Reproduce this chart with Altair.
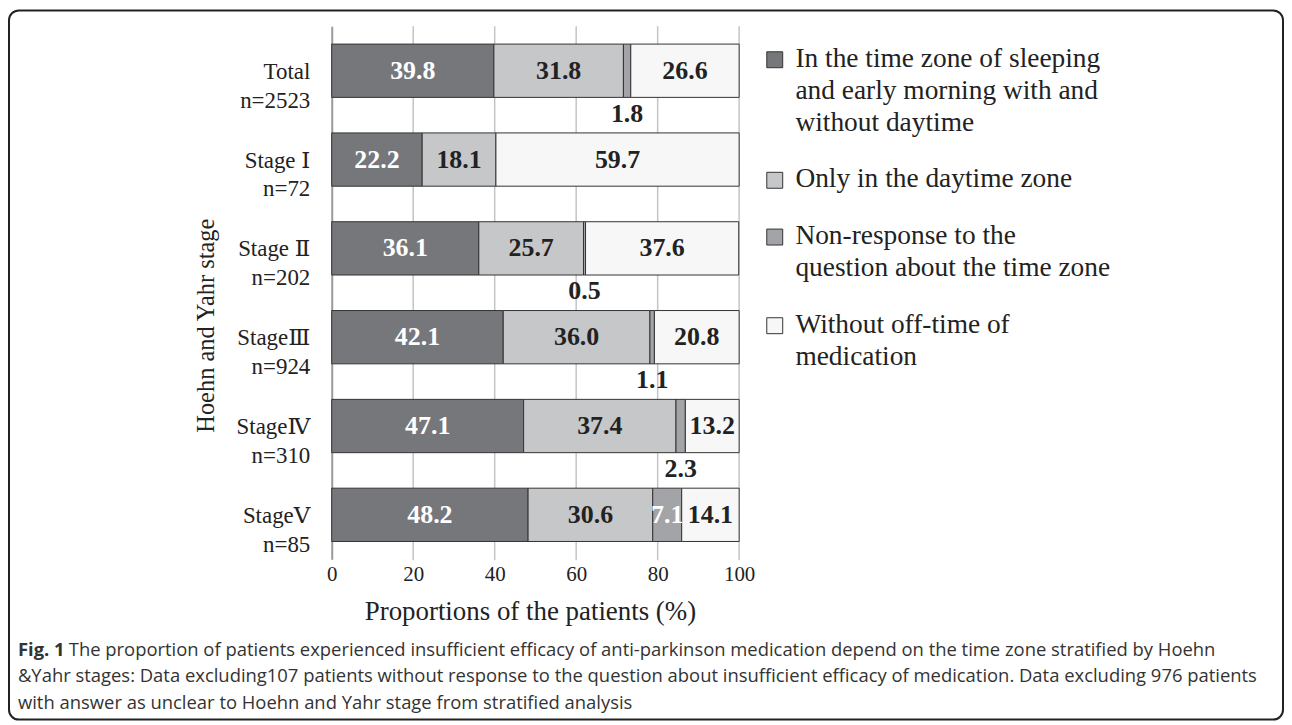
import altair as alt
import pandas as pd

# ---------------- data ----------------
stages = ["Total", "Stage Ⅰ", "Stage Ⅱ", "StageⅢ", "StageⅣ", "StageⅤ"]
n_counts = ["n=2523", "n=72", "n=202", "n=924", "n=310", "n=85"]
categories = [
    "In the time zone of  sleeping|and early morning with and|without daytime",
    "Only in the daytime zone",
    "Non-response to the|question about the time zone",
    "Without off-time of|medication",
]
sleep_morning = [39.8, 22.2, 36.1, 42.1, 47.1, 48.2]
daytime_only = [31.8, 18.1, 25.7, 36.0, 37.4, 30.6]
non_response = [1.8, 0.0, 0.5, 1.1, 2.3, 7.1]
without_off = [26.6, 59.7, 37.6, 20.8, 13.2, 14.1]
x_ticks = [0, 20, 40, 60, 80, 100]
grid_ticks = [20, 40, 60, 80, 100]
cat_colors = ["#76777b", "#c6c7c9", "#a3a4a7", "#f7f7f7"]

x_title = "Proportions of the patients (%)"
y_title = "Hoehn and Yahr stage"
caption_bold = "Fig. 1"
caption_lines = [
    "The proportion of patients experienced insufficient efficacy of anti-parkinson medication depend on the time zone stratified by Hoehn",
    "&Yahr stages: Data excluding107 patients without response to the question about insufficient efficacy of medication. Data excluding 976 patients",
    "with answer as unclear to Hoehn and Yahr stage from stratified analysis",
]

# ---------------- table ----------------
row_labels = [f"{s}|{n}" for s, n in zip(stages, n_counts)]
series = [sleep_morning, daytime_only, non_response, without_off]
recs = []
for i, row in enumerate(row_labels):
    start = 0.0
    for c, vals in enumerate(series):
        v = vals[i]
        recs.append(dict(row=row, cat=categories[c], ci=c, v=v, start=start,
                         end=start + v, mid=start + v / 2))
        start += v
df = pd.DataFrame(recs)
df = df[df.v > 0]
below = (df.ci == 2) & (df.v < 3)
df_white = df[~below & ((df.ci == 0) | (df.ci == 2))]
df_black = df[~below & ((df.ci == 1) | (df.ci == 3))]
df_below = df[below]

SERIF = "Liberation Serif, DejaVu Serif, serif"
SANS = "Open Sans"
INK = "#222222"

x_scale = alt.Scale(domain=[0, 100], range=[324, 733], nice=False, zero=False)
y_scale = alt.Scale(domain=row_labels, range=[16, 551], paddingInner=0.4, paddingOuter=0.2)

x_axis = alt.Axis(
    title=x_title, offset=-160, domain=False, ticks=False, tickSize=0, grid=False,
    values=x_ticks, format="d", labelFlush=False, labelPadding=3,
    labelFont=SERIF, labelFontSize=21, labelColor=INK,
    titleFont=SERIF, titleFontSize=27, titleFontWeight="normal", titleColor=INK,
    titleX=523, titleY=52, titleBaseline="middle", titleAlign="center",
)
y_axis = alt.Axis(
    title=y_title, offset=-324, domainColor="#9a9a9a", domainWidth=2,
    ticks=False, tickSize=0, grid=False, labelPadding=22, labelAlign="right",
    labelFont=SERIF, labelFontSize=23, labelColor=INK, labelLineHeight=29,
    labelBaseline="top", labelOffset=-10, labelExpr="split(datum.label, '|')",
    titleFont=SERIF, titleFontSize=24.5, titleFontWeight="normal", titleColor=INK,
    titleX=-126, titleY=316, titleBaseline="middle", titleAlign="center",
)

X = lambda f: alt.X(f, scale=x_scale, title=x_title)
Y = alt.Y("row:N", scale=y_scale, title=y_title)

grid = alt.Chart(pd.DataFrame({"v": grid_ticks})).mark_rule(
    color="#c4c4c4", strokeWidth=1.5
).encode(x=X("v:Q"), y=alt.value(16), y2=alt.value(552))

bars = alt.Chart(df).mark_bar(stroke="#333333", strokeWidth=1).encode(
    x=alt.X("start:Q", scale=x_scale, axis=x_axis, title=x_title),
    x2="end:Q",
    y=alt.Y("row:N", scale=y_scale, axis=y_axis, title=y_title),
    color=alt.Color(
        "cat:N",
        scale=alt.Scale(domain=categories, range=cat_colors),
        legend=alt.Legend(
            title=None, orient="none", legendX=755, legendY=21,
            labelExpr="split(datum.label, '|')", labelFont=SERIF, labelFontSize=27.5,
            labelBaseline="top", labelLimit=0, labelColor=INK,
            symbolType="M-1,0.85H1V2.85H-1Z", symbolSize=256,
            symbolStrokeColor="#333333", symbolStrokeWidth=1, symbolOpacity=1,
            rowPadding=15, padding=0, labelOffset=7,
        ),
    ),
)

def labels(d, color, dy=0):
    return alt.Chart(d).mark_text(
        font=SERIF, fontSize=26, fontWeight="bold", color=color, baseline="middle", dy=dy
    ).encode(x=X("mid:Q"), y=Y, text=alt.Text("v:Q", format=".1f"))

t_white = labels(df_white, "#ffffff")
t_black = labels(df_black, INK)
t_below = labels(df_below, INK, dy=43)

cap_y = [642, 668, 695]
cap_bold = alt.Chart(pd.DataFrame({"t": [caption_bold]})).mark_text(
    font=SANS, fontSize=18.5, fontWeight="bold", color="#333333", align="left", baseline="middle"
).encode(text="t:N", x=alt.value(9), y=alt.value(cap_y[0]))
cap_layers = []
for k, line in enumerate(caption_lines):
    cap_layers.append(
        alt.Chart(pd.DataFrame({"t": [line]})).mark_text(
            font=SANS, fontSize=18.5, color="#333333", align="left", baseline="middle"
        ).encode(text="t:N", x=alt.value(60 if k == 0 else 9), y=alt.value(cap_y[k]))
    )

chart = alt.layer(grid, bars, t_white, t_black, t_below, cap_bold, *cap_layers).properties(
    width=1279, height=712,
    padding={"left": 1, "top": 1, "right": 1, "bottom": 1},
    autosize="none",
).configure(
    style={"guide-label": alt.MarkConfig(lineHeight=32)}
).configure_view(stroke="#222222", strokeWidth=2, cornerRadius=10)

chart.save("out.html", embed_options={"renderer": "svg", "actions": False})
